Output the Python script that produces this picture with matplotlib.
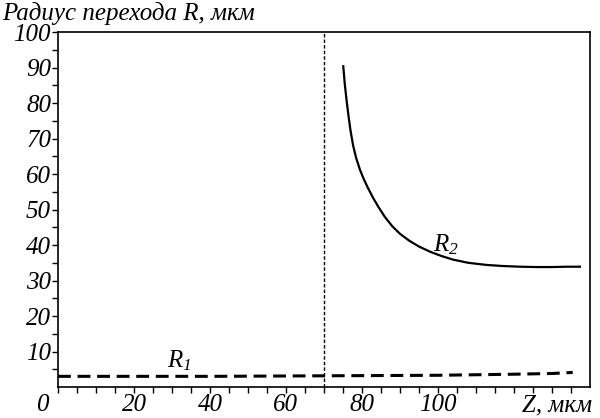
import numpy as np
import matplotlib
matplotlib.use('Agg')
import matplotlib.pyplot as plt
from matplotlib.transforms import ScaledTranslation

plt.rcParams['font.family'] = 'Liberation Serif'
plt.rcParams['font.style'] = 'italic'
plt.rcParams['mathtext.fontset'] = 'custom'
plt.rcParams['mathtext.it'] = 'Liberation Serif:italic'
plt.rcParams['mathtext.rm'] = 'Liberation Serif:italic'

# Данные
z_r1 = [0, 20, 40, 60, 80, 100, 120, 130, 135.5]
r1 = [3.0, 3.0, 3.0, 3.1, 3.2, 3.3, 3.6, 3.8, 4.1]

z_r2 = [75.1, 75.5, 76.0, 76.5, 77.0, 77.7, 78.5, 79.5, 80.5, 81.5, 83.0,
        84.5, 86.0, 88.0, 90.0, 92.5, 95.0, 98.0, 101.0, 104.0, 108.0,
        112.8, 117.0, 121.6, 126.0, 130.0, 134.0, 137.4]
r2 = [90.4, 85.3, 80.5, 76.2, 72.3, 68.0, 64.5, 61.2, 58.6, 56.3, 53.2,
      50.5, 48.0, 45.3, 43.2, 41.2, 39.6, 38.1, 36.9, 35.9, 35.0,
      34.4, 34.1, 33.9, 33.8, 33.8, 33.9, 33.9]

z_boundary = 70
xticks = [0, 20, 40, 60, 80, 100]
yticks = [10, 20, 30, 40, 50, 60, 70, 80, 90, 100]

fig = plt.figure(figsize=(6, 4.18), dpi=100)
ax = fig.add_axes([0.0967, 0.0742, 0.8863, 0.8488])

ax.plot(z_r1, r1, color='black', lw=2.2, ls=(0, (4.2, 2.2)))
ax.plot(z_r2, r2, color='black', lw=1.6)
ax.axvline(z_boundary, color='black', lw=1.0, ls=(0, (2.5, 1.5)))

ax.set_xlim(0, 140)
ax.set_ylim(0, 100)
ax.set_xticks(xticks)
ax.set_yticks(yticks)
ax.set_xticks(np.arange(5, 140, 5), minor=True)
ax.set_yticks(np.arange(5, 100, 5), minor=True)
ax.tick_params(which='both', direction='out', length=4, width=1,
               labelsize=18, pad=1)
for s in ax.spines.values():
    s.set_linewidth(1.2)

# подпись нуля сдвинута влево
lbl0 = ax.get_xticklabels()[0]
lbl0.set_transform(lbl0.get_transform() + ScaledTranslation(-0.16, 0, fig.dpi_scale_trans))

ax.text(32, 7.5, r'$R_1$', fontsize=18, ha='center', va='center')
ax.text(102, 40, r'$R_2$', fontsize=18, ha='center', va='center')

fig.text(0.004, 0.968, 'Радиус перехода R, мкм', fontsize=18, ha='left', va='center')
fig.text(0.987, 0.031, 'Z, мкм', fontsize=18, ha='right', va='center')

fig.savefig('out.png', dpi=100)
